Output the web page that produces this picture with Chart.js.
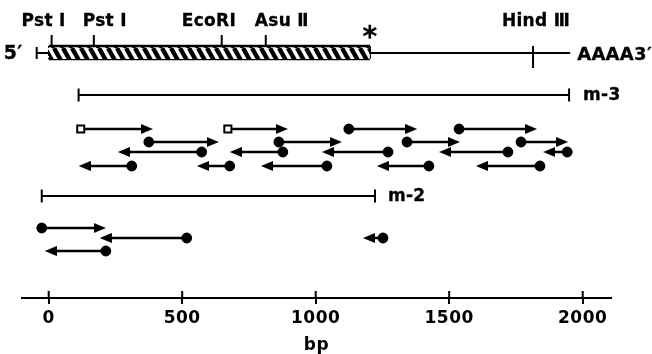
<!DOCTYPE html>
<html>
<head>
<meta charset="utf-8">
<script src="https://cdn.jsdelivr.net/npm/chart.js@4/dist/chart.umd.min.js"></script>
<style>
  html, body { margin: 0; padding: 0; background: #fff; }
</style>
</head>
<body>
<canvas id="mapChart" width="652" height="354"></canvas>
<script>
// === cDNA MAP + SEQUENCING STRATEGY ===

// restriction sites (bp) and where their names sit
const SITE_NAMES = ['Pst I', 'Pst I', 'EcoRI', 'Asu Ⅱ', 'Hind Ⅲ'];
const SITE_BP = [11, 169, 648, 813, 1814];
const SITE_LABEL_BP = [-19, 210, 600, 873, 1825];

const CODING = [0, 1203];        // hatched region, ends at the stop (*)
const MAP_SPAN = [-45, 1953];    // 5' ... AAAA3'

const M3_SPAN = [112, 1949];
const M2_SPAN = [-26, 1222];

// sequencing runs: [start, tip, lane, marker]
const M3_RUNS = [
    [120, 390, 0, 'sq'], [671, 896, 0, 'sq'], [1124, 1380, 0], [1537, 1829, 0],
    [375, 637, 1], [862, 1098, 1], [1342, 1540, 1], [1769, 1945, 1],
    [573, 259, 2], [877, 678, 2], [1271, 1023, 2], [1720, 1462, 2], [1942, 1852, 2],
    [311, 112, 3], [678, 555, 3], [1042, 795, 3], [1424, 1229, 3], [1840, 1600, 3]
];
const M2_RUNS = [
    [-26, 214, 0],
    [517, 191, 1], [1252, 1177, 1],
    [214, -15, 2]
];

const X_MIN = -100, X_MAX = 2106;
const TICKS = [0, 500, 1000, 1500, 2000];

// vertical tracks (y scale runs 0..298 top to bottom)
const Y_LABEL = 22, Y_SITE_TOP = 35, Y_MAP = 53, Y_BOX = [46, 59], Y_HIND = [46, 68];
const Y_M3 = 95, M3_LANES = [129, 142, 152, 166];
const Y_M2 = 196, M2_LANES = [228, 238, 251];

const K = '#000';
const FONT = '"DejaVu Sans", "Liberation Sans", Arial, sans-serif';
const PX_BP = (X_MAX - X_MIN) / 589;
const HEAD_W = 12, HEAD_H = 10;

function makeHatch() {
    const p = 9, h = 16, c = document.createElement('canvas');
    c.width = p; c.height = h;
    const g = c.getContext('2d');
    g.fillStyle = '#fff'; g.fillRect(0, 0, p, h);
    g.strokeStyle = K; g.lineWidth = 4.4;
    [-p, 0, p].forEach(o => { g.beginPath(); g.moveTo(o, 0); g.lineTo(o + p, h); g.stroke(); });
    return g.createPattern(c, 'repeat');
}

// arrowhead sprite used as point style
function makeHead(dir) {
    const c = document.createElement('canvas');
    c.width = HEAD_W; c.height = HEAD_H;
    const g = c.getContext('2d');
    g.fillStyle = K;
    g.beginPath();
    if (dir > 0) { g.moveTo(0, 0); g.lineTo(HEAD_W, HEAD_H / 2); g.lineTo(0, HEAD_H); }
    else { g.moveTo(HEAD_W, 0); g.lineTo(0, HEAD_H / 2); g.lineTo(HEAD_W, HEAD_H); }
    g.closePath(); g.fill();
    return c;
}
const HEAD_RIGHT = makeHead(1), HEAD_LEFT = makeHead(-1);

function seg(x0, x1, y0, y1, extra) {
    return Object.assign({ data: [{ x: x0, y: y0 }, { x: x1, y: y1 }], borderColor: K, borderWidth: 2, pointRadius: 0 }, extra || {});
}

function scaleBar(span, y) {
    return seg(span[0], span[1], y, y, { pointStyle: 'line', pointRotation: 90, pointRadius: 6.5, pointBorderWidth: 2, pointBorderColor: K });
}

function run(r, lanes) {
    const [start, tip, lane, marker] = r;
    const dir = tip > start ? 1 : -1;
    const y = lanes[lane];
    const sq = marker === 'sq';
    return seg(start, tip - dir * (HEAD_W / 2) * PX_BP, y, y, {
        borderWidth: 2.5,
        pointStyle: [sq ? 'rect' : 'circle', dir > 0 ? HEAD_RIGHT : HEAD_LEFT],
        pointRadius: [sq ? 5 : 4.4, 6],
        pointBackgroundColor: [sq ? '#fff' : K, K],
        pointBorderColor: K,
        pointBorderWidth: [2, 1]
    });
}

const datasets = [];
// hatched box: top edge filled down to bottom edge
datasets.push(seg(CODING[0], CODING[1], Y_BOX[0], Y_BOX[0], { fill: '+1', backgroundColor: makeHatch(), borderWidth: 2.5 }));
datasets.push(seg(CODING[0], CODING[1], Y_BOX[1], Y_BOX[1], { borderWidth: 2.5 }));
datasets.push(seg(CODING[0], CODING[0], Y_BOX[0], Y_BOX[1], { borderWidth: 1.5, borderDash: [2, 2] }));
datasets.push(seg(CODING[1], CODING[1], Y_BOX[0], Y_BOX[1]));
// map line with 5' end bar
datasets.push(seg(MAP_SPAN[0], MAP_SPAN[1], Y_MAP, Y_MAP, { pointStyle: 'line', pointRotation: 90, pointRadius: [6, 0], pointBorderWidth: 2, pointBorderColor: K }));
// site ticks
SITE_BP.forEach((b, i) => {
    const hind = SITE_NAMES[i].startsWith('Hind');
    datasets.push(seg(b, b, hind ? Y_HIND[0] : Y_SITE_TOP, hind ? Y_HIND[1] : Y_MAP));
});
datasets.push(scaleBar(M3_SPAN, Y_M3));
datasets.push(scaleBar(M2_SPAN, Y_M2));
M3_RUNS.forEach(r => datasets.push(run(r, M3_LANES)));
M2_RUNS.forEach(r => datasets.push(run(r, M2_LANES)));

function boldText(ctx, s, px, py) {
    ctx.fillText(s, px, py);
    ctx.strokeText(s, px, py);
}

const mapText = {
    id: 'mapText',
    beforeDraw(chart) { chart.ctx.letterSpacing = '0.5px'; },
    afterDraw(chart) {
        const { ctx, chartArea, scales: { x, y } } = chart;
        ctx.save();
        ctx.letterSpacing = '0.3px';
        ctx.fillStyle = K;
        ctx.strokeStyle = K;
        ctx.lineWidth = 0.3;
        ctx.textBaseline = 'middle';
        ctx.textAlign = 'center';
        ctx.font = `bold 17px ${FONT}`;
        SITE_NAMES.forEach((n, i) => boldText(ctx, n, x.getPixelForValue(SITE_LABEL_BP[i]), y.getPixelForValue(Y_LABEL)));
        // stop codon
        ctx.font = `bold 28px ${FONT}`;
        ctx.textBaseline = 'alphabetic';
        boldText(ctx, '*', x.getPixelForValue(CODING[1]), y.getPixelForValue(Y_MAP) - 7);
        // ends of the map
        ctx.textBaseline = 'middle';
        ctx.textAlign = 'left';
        ctx.font = `bold 19px ${FONT}`;
        boldText(ctx, '5′', x.getPixelForValue(MAP_SPAN[0]) - 33, y.getPixelForValue(Y_MAP) + 1);
        ctx.font = `bold 18px ${FONT}`;
        boldText(ctx, 'AAAA3′', x.getPixelForValue(MAP_SPAN[1]) + 7, y.getPixelForValue(Y_MAP) + 2);
        ctx.font = `bold 17px ${FONT}`;
        boldText(ctx, 'm-3', x.getPixelForValue(M3_SPAN[1]) + 14, y.getPixelForValue(Y_M3) + 1);
        boldText(ctx, 'm-2', x.getPixelForValue(M2_SPAN[1]) + 13, y.getPixelForValue(Y_M2) + 1);
        // upper half of the axis tick marks
        ctx.lineWidth = 2;
        TICKS.forEach(v => {
            const px = x.getPixelForValue(v);
            ctx.beginPath(); ctx.moveTo(px, chartArea.bottom - 7); ctx.lineTo(px, chartArea.bottom); ctx.stroke();
        });
        ctx.restore();
    }
};

new Chart(document.getElementById('mapChart').getContext('2d'), {
    type: 'line',
    data: { datasets },
    plugins: [mapText],
    options: {
        responsive: false, animation: false,
        layout: { autoPadding: false, padding: { left: 22, right: 41, top: 0, bottom: 0 } },
        elements: { line: { tension: 0 } },
        plugins: { legend: { display: false }, tooltip: { enabled: false } },
        scales: {
            x: {
                type: 'linear', min: X_MIN, max: X_MAX,
                afterBuildTicks: s => { s.ticks = TICKS.map(v => ({ value: v })); },
                afterFit: s => { s.height = 56; },
                border: { display: true, color: K, width: 2 },
                grid: { drawOnChartArea: false, color: K, lineWidth: 2, tickLength: 6 },
                ticks: { color: K, padding: 4, maxRotation: 0, callback: v => String(v), font: { family: FONT, size: 17, weight: 'bold' } },
                title: { display: true, text: 'bp', color: K, padding: { top: 0, bottom: -2 }, font: { family: FONT, size: 17, weight: 'bold' } }
            },
            y: { type: 'linear', display: false, min: 0, max: 298, reverse: true }
        }
    }
});
</script>
</body>
</html>
